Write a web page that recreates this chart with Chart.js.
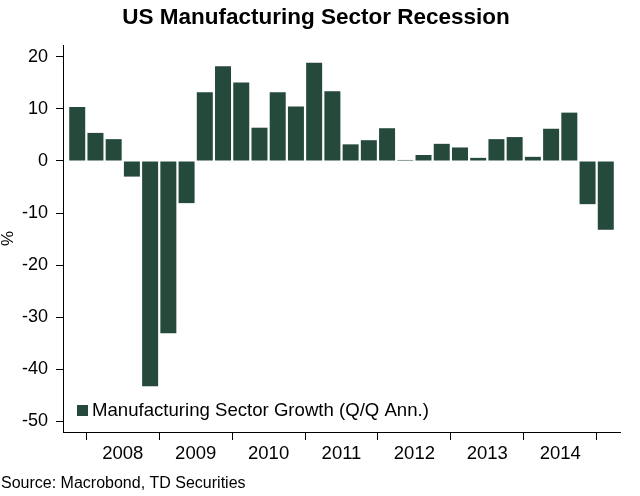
<!DOCTYPE html>
<html><head><meta charset="utf-8">
<script src="https://cdn.jsdelivr.net/npm/chart.js@4"></script>
<style>html,body{margin:0;padding:0;background:#fff}#wrap{width:640px;height:496px;position:relative}</style>
</head><body><div id="wrap"><canvas id="c"></canvas></div>
<script>
const categories = ['2007Q4',
  '2008Q1','2008Q2','2008Q3','2008Q4',
  '2009Q1','2009Q2','2009Q3','2009Q4',
  '2010Q1','2010Q2','2010Q3','2010Q4',
  '2011Q1','2011Q2','2011Q3','2011Q4',
  '2012Q1','2012Q2','2012Q3','2012Q4',
  '2013Q1','2013Q2','2013Q3','2013Q4',
  '2014Q1','2014Q2','2014Q3','2014Q4',
  '2015Q1'];
const growth = [10.4,
  5.4, 4.2, -3.0, -43.3,
  -33.1, -8.1, 13.2, 18.2,
  15.1, 6.4, 13.2, 10.5,
  18.9, 13.4, 3.2, 4.0,
  6.3, 0.2, 1.15, 3.3,
  2.6, 0.6, 4.2, 4.6,
  0.8, 6.2, 9.3, -8.3,
  -13.2];
const yearLabels = ['2008','2009','2010','2011','2012','2013','2014'];
const yTicks = [20, 10, 0, -10, -20, -30, -40, -50];
const seriesName = 'Manufacturing Sector Growth (Q/Q Ann.)';
const titleText = 'US Manufacturing Sector Recession';
const sourceText = 'Source: Macrobond, TD Securities';

const BAR = '#254a3c';
const FONT = "'Liberation Sans', Arial, sans-serif";

const extras = {
  id: 'extras',
  afterDraw(chart) {
    const ctx = chart.ctx;
    const ca = chart.chartArea;
    ctx.save();
    ctx.fillStyle = '#000';
    ctx.font = "bold 22.5px " + FONT;
    ctx.textAlign = 'center';
    ctx.textBaseline = 'alphabetic';
    ctx.fillText(titleText, 316, 24);
    ctx.font = "16px " + FONT;
    ctx.textAlign = 'left';
    ctx.fillText(sourceText, 1, 488);
    const ds = chart.data.datasets[0];
    ctx.fillStyle = ds.backgroundColor;
    ctx.fillRect(ca.left + 14, ca.bottom - 27, 11, 11);
    ctx.fillStyle = '#000';
    ctx.font = "18.6px " + FONT;
    ctx.textBaseline = 'middle';
    ctx.fillText(ds.label, ca.left + 29, ca.bottom - 21);
    ctx.restore();
  }
};

new Chart(document.getElementById('c'), {
  type: 'bar',
  data: {
    datasets: [{
      label: seriesName,
      data: growth.map((v, i) => ({ x: i, y: v })),
      backgroundColor: BAR,
      borderWidth: 0,
      barPercentage: 0.878,
      categoryPercentage: 1.0
    }]
  },
  options: {
    responsive: true,
    maintainAspectRatio: false,
    animation: false,
    layout: { padding: { top: 45, right: 20, bottom: 0, left: 0 } },
    plugins: { legend: { display: false }, title: { display: false }, tooltip: { enabled: false } },
    scales: {
      x: {
        type: 'linear',
        offset: false,
        min: -0.78,
        max: categories.length - 1 + 0.78,
        afterFit(scale) { scale.height = 64; },
        afterBuildTicks(scale) {
          const t = [];
          for (let k = 0; k <= yearLabels.length; k++) {
            t.push({ value: 0.5 + 4 * k });
            if (k < yearLabels.length) t.push({ value: 2.5 + 4 * k });
          }
          scale.ticks = t;
        },
        grid: {
          offset: false,
          drawOnChartArea: false,
          drawTicks: true,
          tickLength: 8,
          tickWidth: 1,
          tickColor: (c) => {
            const v = c.tick ? c.tick.value : null;
            return (v !== null && Number.isInteger((v - 0.5) / 4)) ? '#000' : 'rgba(0,0,0,0)';
          }
        },
        border: { display: true, color: '#000', width: 1 },
        ticks: {
          autoSkip: false, maxRotation: 0, minRotation: 0,
          color: '#000', padding: 3,
          font: { family: FONT, size: 18.5 },
          callback: (value) => {
            const k = (value - 2.5) / 4;
            return Number.isInteger(k) ? yearLabels[k] : '';
          }
        }
      },
      y: {
        min: -52.1,
        max: 22.3,
        afterFit(scale) { scale.width = 63; },
        afterBuildTicks(scale) { scale.ticks = yTicks.map(v => ({ value: v })); },
        grid: { drawOnChartArea: false, drawTicks: true, tickLength: 7, tickColor: '#000' },
        border: { display: true, color: '#000', width: 1 },
        ticks: { color: '#000', padding: 8, font: { family: FONT, size: 18 } },
        title: {
          display: true, text: '%', color: '#000', padding: 0,
          font: { family: FONT, size: 17, lineHeight: 1 }
        }
      }
    }
  },
  plugins: [extras]
});
</script>
</body></html>
